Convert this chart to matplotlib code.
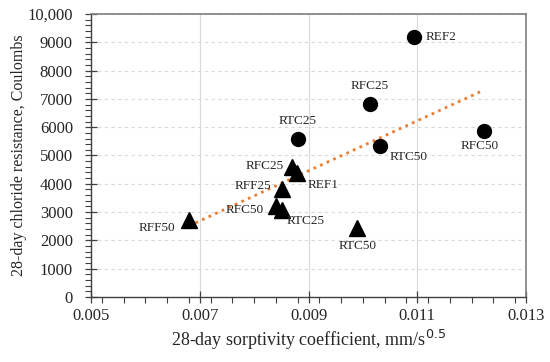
import numpy as np
import matplotlib.pyplot as plt
from matplotlib.ticker import MultipleLocator

plt.rcParams['font.family'] = ['Liberation Serif', 'DejaVu Serif']

# circles
circ_names = ['REF2', 'RFC25', 'RTC25', 'RTC50', 'RFC50']
circ_x = [0.01094, 0.01013, 0.00880, 0.01031, 0.01222]
circ_y = [9200, 6820, 5580, 5330, 5870]

# triangles
tri_names = ['RFC25', 'REF1', 'RFF25', 'RFC50', 'RTC25', 'RFF50', 'RTC50']
tri_x = [0.00869, 0.00879, 0.00851, 0.00840, 0.00851, 0.00680, 0.00990]
tri_y = [4590, 4380, 3820, 3220, 3070, 2720, 2440]

y_ticks = [0, 1000, 2000, 3000, 4000, 5000, 6000, 7000, 8000, 9000, 10000]
y_tick_labels = ['0', '1000', '2000', '3000', '4000', '5000', '6000', '7000', '8000', '9000', '10,000']
x_ticks = [0.005, 0.007, 0.009, 0.011, 0.013]
x_tick_labels = ['0.005', '0.007', '0.009', '0.011', '0.013']

# label placement (offset in pixels, alignment)
circ_offsets = [(12, 0, 'left', 'center'), (0, 12, 'center', 'bottom'), (0, 12, 'center', 'bottom'),
                (10, -5, 'left', 'top'), (-4, -9, 'center', 'top')]
tri_offsets = [(-8, 1, 'right', 'center'), (11, -12, 'left', 'center'), (-11, 3, 'right', 'center'),
               (-12, -4, 'right', 'center'), (5, -11, 'left', 'center'), (-14, -8, 'right', 'center'),
               (0, -12, 'center', 'top')]

fig = plt.figure(figsize=(5.5, 3.62), dpi=100)
ax = fig.add_axes([0.1655, 0.1796, 0.7909, 0.7817])

# trend line through all points
all_x = np.array(circ_x + tri_x)
all_y = np.array(circ_y + tri_y)
k, b = np.polyfit(all_x, all_y, 1)
xx = np.array([all_x.min(), all_x.max()])
ax.plot(xx, k * xx + b, color='#ED7D31', linestyle=(0, (1, 1.6)), linewidth=2, zorder=2)

ax.plot(circ_x, circ_y, 'o', color='black', markersize=10, zorder=3)
ax.plot(tri_x, tri_y, '^', color='black', markersize=11, zorder=3)

for name, x, y, (dx, dy, ha, va) in zip(circ_names, circ_x, circ_y, circ_offsets):
    ax.annotate(name, (x, y), xytext=(dx, dy), textcoords='offset pixels',
                ha=ha, va=va, fontsize=9.5, color='#262626')
for name, x, y, (dx, dy, ha, va) in zip(tri_names, tri_x, tri_y, tri_offsets):
    ax.annotate(name, (x, y), xytext=(dx, dy), textcoords='offset pixels',
                ha=ha, va=va, fontsize=9.5, color='#262626')

ax.set_xlim(0.005, 0.013)
ax.set_ylim(0, 10000)
ax.set_xticks(x_ticks)
ax.set_xticklabels(x_tick_labels)
ax.set_yticks(y_ticks)
ax.set_yticklabels(y_tick_labels)
ax.xaxis.set_minor_locator(MultipleLocator(0.0004))
ax.yaxis.set_minor_locator(MultipleLocator(200))
ax.tick_params(axis='both', which='major', direction='inout', length=8, width=0.9,
               color='#404040', labelsize=12, labelcolor='#262626')
ax.tick_params(axis='both', which='minor', direction='out', length=4, width=0.8, color='#404040')
ax.tick_params(axis='x', which='major', pad=4)
ax.tick_params(axis='y', which='major', pad=9)

ax.grid(axis='y', which='major', linestyle=(0, (3, 3)), color='#d9d9d9', linewidth=0.8)
ax.grid(axis='x', which='major', linestyle='-', color='#d9d9d9', linewidth=0.8)
ax.set_axisbelow(True)

for s in ['left', 'bottom']:
    ax.spines[s].set_color('#404040')
    ax.spines[s].set_linewidth(1.0)
for s in ['top', 'right']:
    ax.spines[s].set_color('#7f7f7f')
    ax.spines[s].set_linewidth(1.2)

ax.set_xlabel('28-day sorptivity coefficient, mm/s$^{0.5}$', fontsize=13, color='#262626', labelpad=3)
ax.set_ylabel('28-day chloride resistance, Coulombs', fontsize=11.5, color='#262626', labelpad=0)

fig.savefig('out.png', dpi=100)
